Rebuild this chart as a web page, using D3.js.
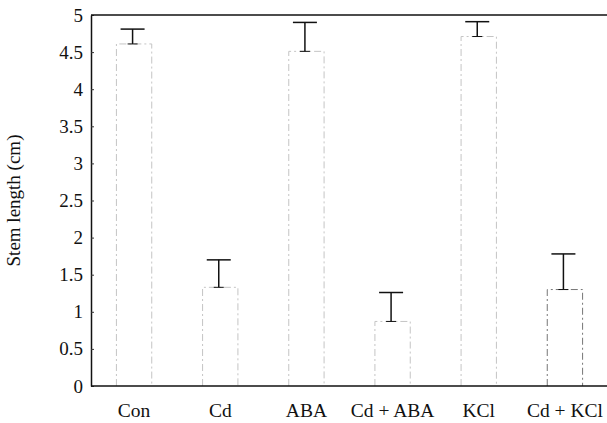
<!DOCTYPE html>
<html>
<head>
<meta charset="utf-8">
<script src="https://cdn.jsdelivr.net/npm/d3@7"></script>
<style>
  html, body { margin: 0; padding: 0; background: #fff; }
  svg { display: block; }
  text { font-family: "Liberation Serif", "Times New Roman", serif; fill: #111; }
</style>
</head>
<body>
<svg id="chart" width="607" height="423"></svg>
<script>
const categories = ["Con", "Cd", "ABA", "Cd + ABA", "KCl", "Cd + KCl"];
const means = [4.61, 1.33, 4.51, 0.87, 4.71, 1.30];
const errors = [0.20, 0.37, 0.39, 0.39, 0.20, 0.48];
const yTicks = [0, 0.5, 1, 1.5, 2, 2.5, 3, 3.5, 4, 4.5, 5];
const yLabel = "Stem length (cm)";

const svg = d3.select("#chart");
const mLeft = 91, mRight = 608, mTop = 15, mBottom = 386;

const x = d3.scaleBand().domain(categories).range([mLeft, mRight])
  .paddingInner(0.59).paddingOuter(0.295);
const y = d3.scaleLinear().domain([0, 5]).range([mBottom, mTop]);

// bars
svg.append("g").selectAll("path").data(categories).join("path")
  .attr("d", (c, i) => {
    const x0 = x(c), x1 = x(c) + x.bandwidth(), yt = y(means[i]), yb = y(0);
    return `M${x0},${yb}V${yt}H${x1}V${yb}`;
  })
  .attr("fill", "none")
  .attr("stroke", (c, i) => i === 5 ? "#777" : "#c4c4c4")
  .attr("stroke-width", 1)
  .attr("stroke-dasharray", "7,3,2,3");

// error bars
const eb = svg.append("g").attr("stroke", "#111").attr("stroke-width", 1.5);
categories.forEach((c, i) => {
  const cx = x(c) + x.bandwidth() / 2 - 1.5;
  const cap = 12;
  eb.append("line").attr("x1", cx).attr("x2", cx)
    .attr("y1", y(means[i])).attr("y2", y(means[i] + errors[i]));
  eb.append("line").attr("x1", cx - cap).attr("x2", cx + cap)
    .attr("y1", y(means[i] + errors[i])).attr("y2", y(means[i] + errors[i]));
  eb.append("line").attr("x1", cx - 5).attr("x2", cx + 5)
    .attr("y1", y(means[i])).attr("y2", y(means[i])).attr("stroke-width", 1);
});

// y axis
const yAxis = d3.axisLeft(y).tickValues(yTicks).tickSizeInner(-3).tickSizeOuter(0)
  .tickPadding(8).tickFormat(d3.format("~g"));
const gy = svg.append("g").attr("transform", `translate(${mLeft},0)`).call(yAxis);
gy.select(".domain").attr("stroke", "#111").attr("stroke-width", 1.5);
gy.selectAll(".tick line").attr("stroke", "#333");
gy.selectAll("text").style("font-size", "19px").style("font-family", "Liberation Serif, serif");

// x axis
const xAxis = d3.axisBottom(x).tickSize(0).tickPadding(17);
const gx = svg.append("g").attr("transform", `translate(0,${mBottom})`).call(xAxis);
gx.select(".domain").attr("stroke", "#111").attr("stroke-width", 1.5)
  .attr("d", `M${mLeft},0H607`);
gx.selectAll("text").style("font-size", "19.5px").style("font-family", "Liberation Serif, serif");

// top border
svg.append("line").attr("x1", mLeft).attr("x2", 607).attr("y1", mTop).attr("y2", mTop)
  .attr("stroke", "#111").attr("stroke-width", 1.5);

// y label
svg.append("text")
  .attr("transform", `translate(20,${(mTop + mBottom) / 2}) rotate(-90)`)
  .attr("text-anchor", "middle")
  .style("font-size", "19px")
  .text(yLabel);
</script>
</body>
</html>
